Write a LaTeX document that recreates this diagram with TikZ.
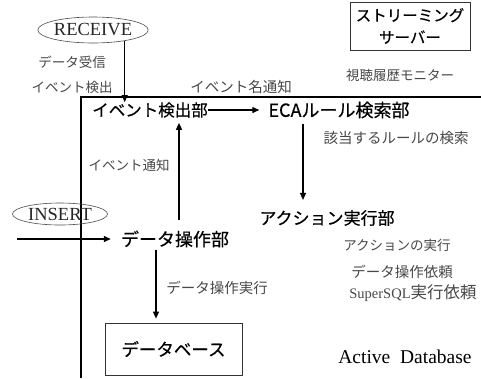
\documentclass[tikz,border=0pt]{standalone}
\usepackage{fontspec}
\setmainfont{Liberation Serif}
\newfontfamily\jp{Noto Sans CJK JP}
\newfontfamily\jpb[FakeBold=0.4]{Noto Sans CJK JP}
\usetikzlibrary{shapes.geometric,arrows.meta}
\begin{document}
\begin{tikzpicture}[x=1pt,y=-1pt,
  arr/.style={line width=1.3pt,-{Triangle[length=7pt,width=6pt]}},
  lbl/.style={inner sep=0pt,text=black!72,font=\jp\fontsize{13.5}{15}\selectfont},
  unit/.style={inner sep=0pt,text=black},
  oval/.style={draw=black!70,line width=0.6pt,ellipse,inner sep=0pt,text=black!85,font=\fontsize{18.5}{20}\selectfont}]
\useasboundingbox (0,0) rectangle (481,378);
% frame
\draw[line width=2pt] (481,97) -- (81,97) -- (81,378);
% ellipses
\node[oval,minimum width=97,minimum height=26] (rec) at (93,30) {RECEIVE};
\node[oval,minimum width=95,minimum height=22] (ins) at (60,214) {INSERT};
% units
\node[unit,font=\jpb\fontsize{16.5}{19}\selectfont] (evd) at (150,110) {イベント検出部};
\node[unit,font=\jpb\fontsize{18}{19}\selectfont] (eca) at (339,110) {ECAルール検索部};
\node[unit,font=\jpb\fontsize{17}{19}\selectfont] (act) at (327,218) {アクション実行部};
\node[unit,font=\jpb\fontsize{18}{19}\selectfont] (dop) at (175,239) {データ操作部};
\node[draw=black!80,line width=0.7pt,minimum width=137,minimum height=52,inner sep=0pt,font=\jpb\fontsize{17.5}{19}\selectfont] (db) at (173.5,349) {データベース};
\node[draw=black!80,line width=0.7pt,minimum width=120,minimum height=48,inner sep=0pt,align=center,font=\jpb\fontsize{15.5}{22}\selectfont] (ss) at (410,26) {ストリーミング\\サーバー};
% labels
\node[lbl] (l1) at (72,62) {データ受信};
\node[lbl] (l2) at (72,87) {イベント検出};
\node[lbl,font=\jp\fontsize{14.5}{16}\selectfont] (l3) at (241,87) {イベント名通知};
\node[lbl] (l4) at (400,75) {視聴履歴モニター};
\node[lbl,font=\jp\fontsize{14.5}{16}\selectfont] (l5) at (396,138) {該当するルールの検索};
\node[lbl] (l6) at (129,165) {イベント通知};
\node[lbl] (l7) at (397,245) {アクションの実行};
\node[lbl,font=\jp\fontsize{14.5}{16}\selectfont] (l8) at (402,272) {データ操作依頼};
\node[lbl,font=\fontsize{14.5}{16}\selectfont] (l9) at (413,293) {SuperSQL{\jp\fontsize{16.5}{18}\selectfont 実行依頼}};
\node[lbl,font=\jp\fontsize{14.5}{16}\selectfont] (l10) at (217,288) {データ操作実行};
\node[inner sep=0pt,font=\fontsize{19.5}{21}\selectfont] (l11) at (405,357) {Active\ \ Database};
% connectors
\coordinate (insstart) at (17,239);
\draw[arr] (rec.-19) -- (rec.-19 |- evd.north);
\draw[arr] (evd.east) -- ([xshift=-9]eca.west);
\draw[arr] ([xshift=-36,yshift=-5]eca.south) -- ([xshift=-24,yshift=10]act.north);
\draw[arr] ([xshift=4,yshift=10]dop.north) -- ([xshift=29,yshift=-5]evd.south);
\draw[arr] (insstart) -- ([xshift=-10]dop.west);
\draw[arr] ([xshift=-19,yshift=-2]dop.south) -- ([xshift=-17.5,yshift=4]db.north);
\end{tikzpicture}
\end{document}
